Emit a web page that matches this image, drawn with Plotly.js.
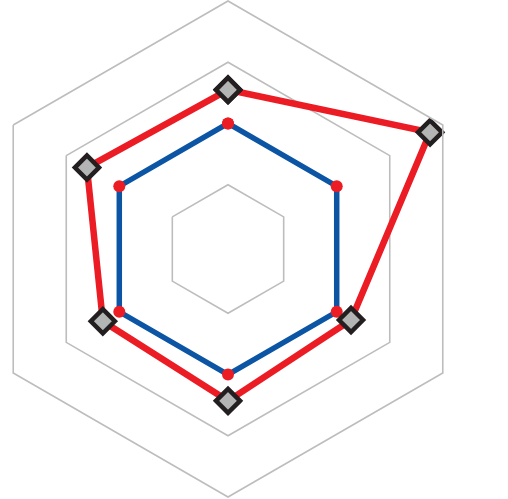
<!DOCTYPE html>
<html>
<head>
<meta charset="utf-8">
<script src="https://cdn.plot.ly/plotly-3.0.1.min.js"></script>
<style>
  html, body { margin: 0; padding: 0; overflow: hidden; background: #fff; }
  #chart { position: absolute; left: -20px; top: 0; width: 530px; height: 499px; }
</style>
</head>
<body>
<div id="chart"></div>
<script>
// Six axes of the radar, clockwise from the top
const categories = ['A', 'B', 'C', 'D', 'E', 'F'];
const baselineValues = [3, 3, 3, 3, 3, 3];
const currentValues = [3.55, 4.76, 3.27, 3.43, 3.31, 3.61];
const gridValues = [2, 3, 4];

// close each polygon by repeating its first vertex
const closeLoop = arr => arr.concat([arr[0]]);

const W = 530, H = 499, S = 496;

const traces = [
  {
    type: 'scatterpolar',
    r: closeLoop(baselineValues),
    theta: closeLoop(categories),
    mode: 'lines+markers',
    line: { color: '#0b55a4', width: 5.5 },
    marker: { symbol: 'circle', size: 12, color: '#ec1c24', line: { width: 0 } },
    hoverinfo: 'skip'
  },
  {
    type: 'scatterpolar',
    r: closeLoop(currentValues),
    theta: closeLoop(categories),
    mode: 'lines+markers',
    line: { color: '#ec1c24', width: 6.5 },
    marker: { symbol: 'diamond', size: 18.5, color: '#b3b5b4', line: { color: '#231f20', width: 4.5 } },
    hoverinfo: 'skip'
  }
];

const layout = {
  width: W,
  height: H,
  margin: { l: 0, r: 0, t: 0, b: 0 },
  paper_bgcolor: '#ffffff',
  showlegend: false,
  polar: {
    domain: { x: [0, S / W], y: [2 / H, 498 / H] },
    bgcolor: 'rgba(0,0,0,0)',
    gridshape: 'linear',
    radialaxis: {
      range: [0.95, 5],
      tickvals: gridValues,
      showticklabels: false,
      ticks: '',
      showline: false,
      gridcolor: '#bdbdbd',
      gridwidth: 1.6
    },
    angularaxis: {
      rotation: 90,
      direction: 'clockwise',
      showgrid: false,
      showticklabels: false,
      ticks: '',
      showline: true,
      linecolor: '#bdbdbd',
      linewidth: 1.6
    }
  }
};

Plotly.newPlot('chart', traces, layout, { staticPlot: true, displayModeBar: false });
</script>
</body>
</html>
